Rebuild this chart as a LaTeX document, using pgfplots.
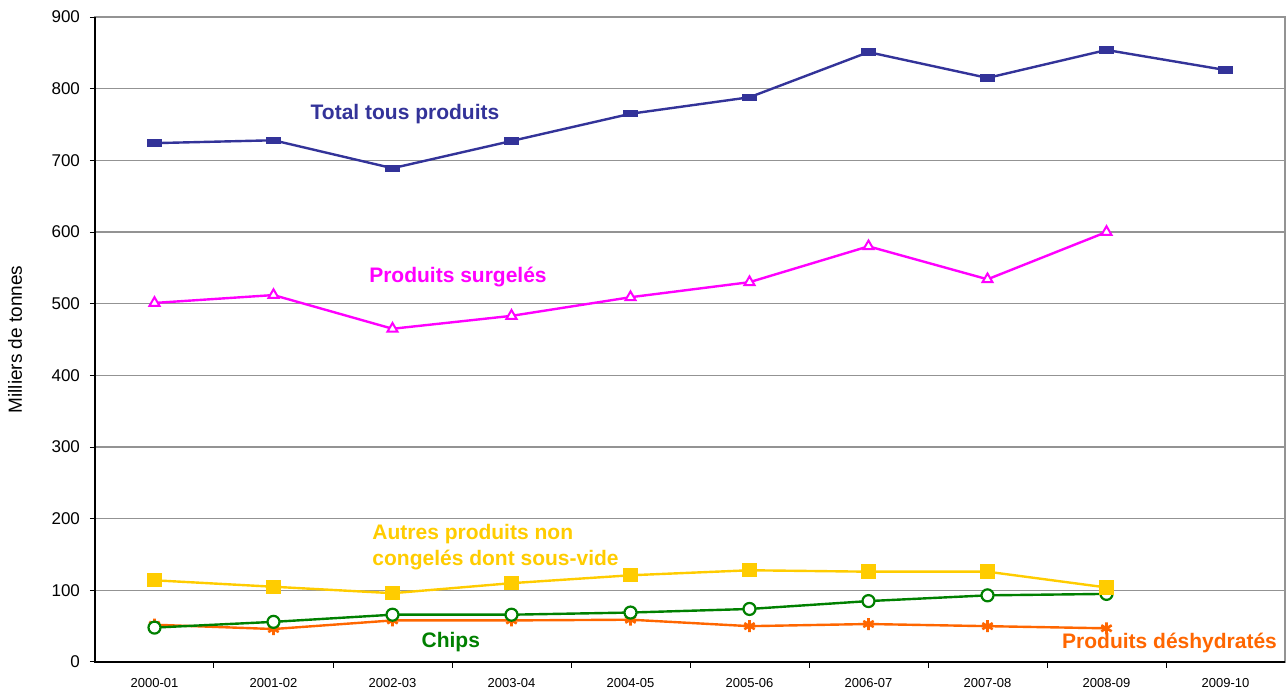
\documentclass[border=0pt]{standalone}
\usepackage{pgfplots}
\pgfplotsset{compat=1.18}
\usepackage{fontspec}
\setmainfont{Liberation Sans}
\definecolor{totcol}{HTML}{333399}
\definecolor{surcol}{HTML}{FF00FF}
\definecolor{autcol}{HTML}{FFCC00}
\definecolor{chicol}{HTML}{008000}
\definecolor{descol}{HTML}{FF6600}
\begin{document}
\begin{tikzpicture}
\useasboundingbox (-47.5pt,-14pt) rectangle (596pt,331pt);
\begin{axis}[
  at={(0,0)}, anchor=south west,
  scale only axis, width=595pt, height=322.5pt,
  xmin=-0.5, xmax=9.5, ymin=0, ymax=900,
  xtick={0,...,9},
  xticklabels={2000-01,2001-02,2002-03,2003-04,2004-05,2005-06,2006-07,2007-08,2008-09,2009-10},
  minor x tick num=1,
  major x tick style={draw=none},
  minor x tick style={black, line width=0.5pt},
  minor tick length=3pt,
  ytick={0,100,...,900},
  major y tick style={black, line width=0.5pt},
  major tick length=2.5pt,
  tick align=outside,
  tick pos=left,
  ymajorgrids, grid style={gray!85, line width=0.6pt},
  axis line style={gray!85, line width=0.6pt},
  /pgf/number format/assume math mode=true,
  xticklabel style={font=\fontsize{6.5}{8}\selectfont, yshift=-2pt},
  yticklabel style={font=\fontsize{8.5}{10}\selectfont, xshift=-1.5pt},
  ylabel={Milliers de tonnes},
  ylabel style={font=\fontsize{9.5}{11}\selectfont, at={(axis description cs:-0.0672,0.5)}, anchor=center},
  clip=false,
]
\draw[black, line width=0.7pt] (rel axis cs:0,1) -- (rel axis cs:0,0) -- (rel axis cs:1,0);

\addplot[color=descol, line width=1.2pt, mark=asterisk, mark size=3pt, mark options={line width=1.3pt}] coordinates {
  (0,52) (1,46) (2,58) (3,58) (4,59) (5,50) (6,53) (7,50) (8,47)
};
\addplot[color=chicol, line width=1.2pt, mark=*, mark size=3pt, mark options={fill=white, line width=1.1pt}] coordinates {
  (0,48) (1,56) (2,66) (3,66) (4,69) (5,74) (6,85) (7,93) (8,95)
};
\addplot[color=autcol, line width=1.2pt, mark=square*, mark size=3pt] coordinates {
  (0,114) (1,105) (2,96) (3,110) (4,121) (5,128) (6,126) (7,126) (8,104)
};
\addplot[color=surcol, line width=1.2pt, mark=triangle*, mark size=2.9pt, mark options={fill=white, line width=1pt}] coordinates {
  (0,501) (1,512) (2,465) (3,483) (4,509) (5,530) (6,580) (7,534) (8,600)
};
\addplot[color=totcol, line width=1.2pt, mark=square*, mark size=2.1pt, mark options={xscale=1.6, yscale=0.6}] coordinates {
  (0,724) (1,728) (2,689) (3,727) (4,765) (5,788) (6,851) (7,815) (8,854) (9,826)
};

\node[font=\fontsize{10.5}{13}\selectfont\bfseries, text=totcol] at (axis cs:2.105,764.6) {Total tous produits};
\node[font=\fontsize{10.5}{13}\selectfont\bfseries, text=surcol] at (axis cs:2.55,537) {Produits surgelés};
\node[font=\fontsize{10.5}{13}\selectfont\bfseries, text=autcol, align=left, anchor=west, inner sep=0pt] at (axis cs:1.828,160.5) {Autres produits non\\congelés dont sous-vide};
\node[font=\fontsize{10.5}{13}\selectfont\bfseries, text=chicol] at (axis cs:2.49,28) {Chips};
\node[font=\fontsize{10.5}{13}\selectfont\bfseries, text=descol] at (axis cs:8.53,26.5) {Produits déshydratés};
\end{axis}
\end{tikzpicture}
\end{document}
